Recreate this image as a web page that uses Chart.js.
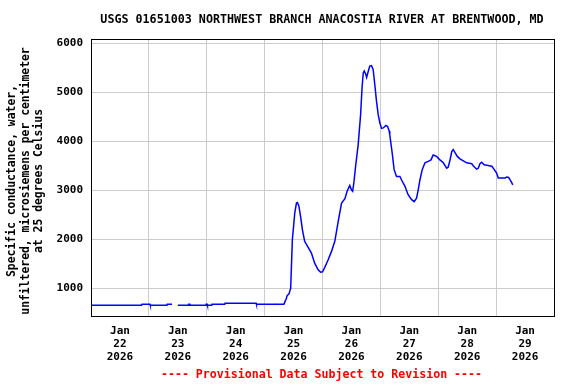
<!DOCTYPE html>
<html lang="en">
<head>
    <meta charset="UTF-8">
    <title>USGS 01651003 Specific conductance</title>
    <script src="https://cdn.jsdelivr.net/npm/chart.js"></script>
    <style>
        body {
            margin: 0;
            background: #fff;
        }
        #wrap {
            width: 576px;
            height: 384px;
        }
    </style>
</head>
<body>
    <div id="wrap"><canvas id="chart" width="576" height="384"></canvas></div>

    <script>
        // hours since Jan 22 2026 00:00, value in microsiemens/cm (null = missing)
        const hours = [
            0, 21, 21.2, 24.5, 24.6, 31.5, 31.6, 33.6, 34.8, 36, 40.4, 40.5, 41, 41.1,
            47.7, 47.8, 48.2, 48.3, 50.1, 50.2, 55.5, 55.6, 68.5, 68.6, 80,
            81.05, 81.3, 82.1, 82.8, 83.5, 84.5, 85.2, 85.6, 86.2, 86.9, 87.7, 88.6,
            90.0, 91.4, 92.8, 94.2, 95.2, 96.0, 96.95, 98.3, 99.7, 101.1, 102.5, 103.9,
            105.3, 106.2, 107.3, 108.0, 108.5, 109.0, 109.8, 110.8, 111.8, 112.4, 112.9,
            113.3, 113.9, 114.3, 114.9, 115.6, 116.3, 117.0, 117.7, 118.4, 119.1, 119.8,
            120.5, 121.2, 122.3, 123.0, 123.65, 123.9, 124.9, 125.7, 126.7, 128.1, 128.8,
            130.2, 131.5, 132.95, 134.0, 135.0, 135.7, 136.4, 137.35, 138.5, 139.8, 141.0,
            141.9, 143.3, 144.7, 146.1, 147.5, 148.1, 148.9, 149.6, 150.2, 150.9, 151.9,
            153.0, 154.4, 155.8, 157.9, 158.5, 159.9, 160.6, 161.3, 162.0, 163.0, 164.1,
            166.2, 167.1, 168.2, 168.9, 170.3, 171.7, 172.4, 173.2, 173.8, 174.5, 174.9
        ];
        const conductance = [
            660, 660, 680, 680, 660, 660, 680, 680, null, 660, 660, 680, 680, 660,
            660, 680, 680, 660, 660, 680, 680, 700, 700, 680, 680,
            800, 850, 890, 1000, 1990, 2540, 2740, 2750, 2680, 2470, 2190, 1960,
            1840, 1720, 1510, 1380, 1330, 1340, 1430, 1580, 1750, 1960, 2360, 2740,
            2830, 2980, 3100, 3010, 2980, 3150, 3520, 3930, 4540, 5090, 5390,
            5430, 5370, 5300, 5410, 5530, 5540, 5460, 5150, 4810, 4540, 4370,
            4260, 4270, 4320, 4300, 4210, 4130, 3760, 3420, 3280, 3280, 3210,
            3080, 2910, 2810, 2770, 2840, 3010, 3210, 3420, 3560, 3590, 3620,
            3720, 3690, 3620, 3560, 3450, 3470, 3620, 3790, 3830, 3770, 3690,
            3640, 3600, 3560, 3540, 3500, 3430, 3450, 3540, 3570, 3520, 3510,
            3490, 3430, 3350, 3250, 3250, 3250, 3270, 3260, 3210, 3150, 3110
        ];

        const dayLabels = ["22", "23", "24", "25", "26", "27", "28", "29"];
        const monthLabel = "Jan";
        const yearLabel = "2026";
        const yTicks = [1000, 2000, 3000, 4000, 5000, 6000];

        const chartTitle = "USGS 01651003 NORTHWEST BRANCH ANACOSTIA RIVER AT BRENTWOOD, MD";
        const yTitle = [
            "Specific conductance, water,",
            "unfiltered, microsiemens per centimeter",
            "at 25 degrees Celsius"
        ];
        const footer = "---- Provisional Data Subject to Revision ----";

        const monoBold = "\"DejaVu Sans Mono\", \"Liberation Mono\", monospace";

        // title, rotated y label, red footer and the black frame
        const decorations = {
            id: "decorations",
            afterDraw(chart) {
                const ctx = chart.ctx;
                const a = chart.chartArea;
                ctx.save();

                ctx.strokeStyle = "#000";
                ctx.lineWidth = 1;
                ctx.strokeRect(a.left + 0.5, a.top + 0.5, a.right - a.left, a.bottom - a.top);

                ctx.fillStyle = "#000";
                ctx.textAlign = "center";
                ctx.textBaseline = "middle";
                ctx.font = "bold 11.7px " + monoBold;
                ctx.fillText(chartTitle, 322, 19.5);

                ctx.font = "bold 11.4px " + monoBold;
                const xs = [12, 26, 39];
                yTitle.forEach((line, i) => {
                    ctx.save();
                    ctx.translate(xs[i], 181);
                    ctx.rotate(-Math.PI / 2);
                    ctx.fillText(line, 0, 0);
                    ctx.restore();
                });

                ctx.fillStyle = "#ff0000";
                ctx.font = "bold 11.6px " + monoBold;
                ctx.fillText(footer, 321.5, 375);

                ctx.restore();
            }
        };

        const points = hours.map((h, i) => ({ x: h, y: conductance[i] }));

        new Chart(document.getElementById("chart"), {
            type: "line",
            data: {
                datasets: [{
                    data: points,
                    borderColor: "#0000ff",
                    borderWidth: 1.5,
                    pointRadius: 0,
                    tension: 0,
                    spanGaps: false
                }]
            },
            options: {
                responsive: false,
                animation: false,
                devicePixelRatio: 1,
                layout: { padding: { left: 0, right: 22, top: 39, bottom: 0 } },
                plugins: {
                    legend: { display: false },
                    tooltip: { enabled: false }
                },
                scales: {
                    x: {
                        type: "linear",
                        min: 0,
                        max: 192,
                        afterBuildTicks: (scale) => {
                            const t = [];
                            for (let h = 0; h <= 192; h += 12) t.push({ value: h });
                            scale.ticks = t;
                        },
                        afterFit: (scale) => { scale.height = 68; },
                        border: { display: false },
                        grid: {
                            drawTicks: false,
                            lineWidth: 1,
                            color: (c) => {
                                const v = c.tick ? c.tick.value : 0;
                                return (v % 24 === 0 && v > 0 && v < 192) ? "#cccccc" : "rgba(0,0,0,0)";
                            }
                        },
                        ticks: {
                            autoSkip: false,
                            maxRotation: 0,
                            padding: 9,
                            color: "#000",
                            font: { family: monoBold, size: 11, weight: "bold", lineHeight: 1.18 },
                            callback: (v) => {
                                if (v % 24 !== 12) return "";
                                return [monthLabel, dayLabels[(v - 12) / 24], yearLabel];
                            }
                        }
                    },
                    y: {
                        min: 439,
                        max: 6082,
                        afterBuildTicks: (scale) => {
                            scale.ticks = yTicks.map(v => ({ value: v }));
                        },
                        afterFit: (scale) => { scale.width = 91; },
                        border: { display: false },
                        grid: {
                            drawTicks: false,
                            color: "#cccccc",
                            lineWidth: 1
                        },
                        ticks: {
                            padding: 8,
                            color: "#000",
                            font: { family: monoBold, size: 11, weight: "bold" },
                            callback: (v) => String(v)
                        }
                    }
                }
            },
            plugins: [decorations]
        });
    </script>
</body>
</html>
